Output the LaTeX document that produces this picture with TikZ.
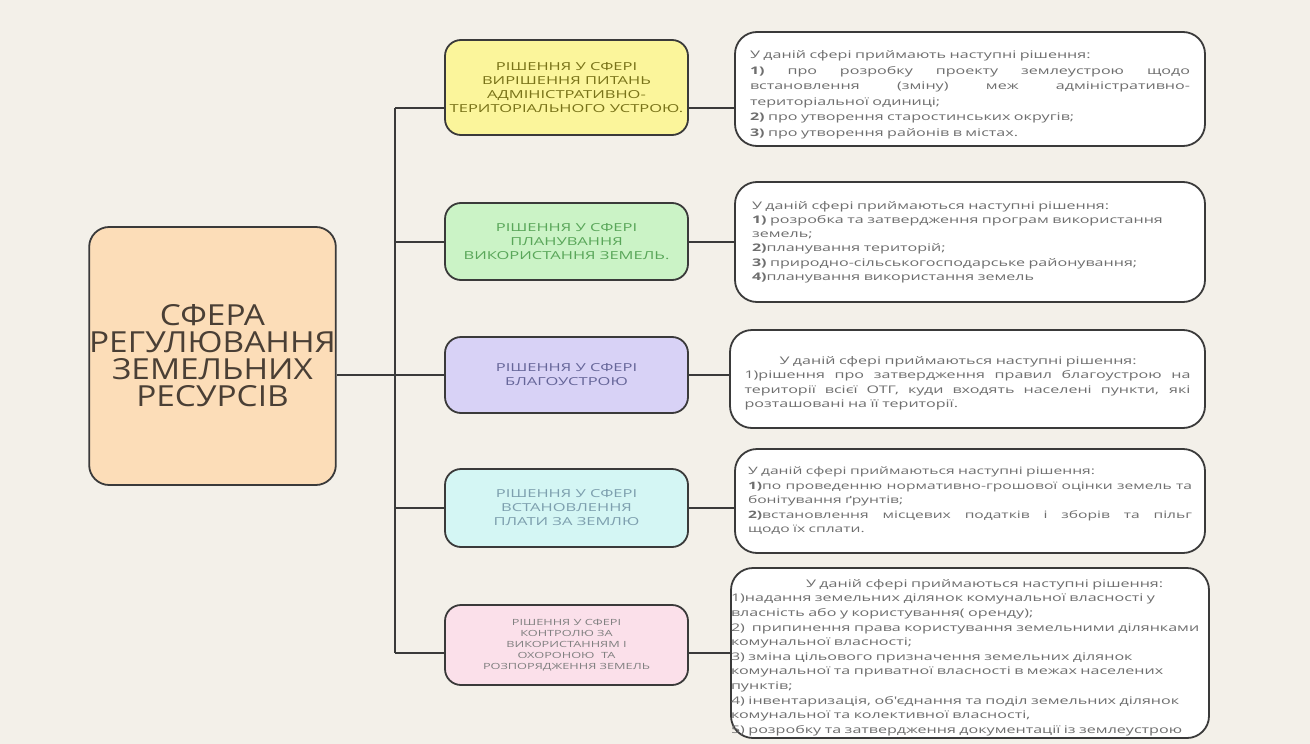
\documentclass[tikz,border=0pt]{standalone}
\usepackage{fontspec}
\setmainfont{Open Sans}
\newfontfamily\mainf[FakeStretch=1.15]{Open Sans}
\newfontfamily\midf[FakeStretch=1.5]{Open Sans}
\newfontfamily\bodyf[FakeStretch=1.53]{Open Sans}
\definecolor{bgc}{HTML}{F3F0E9}
\definecolor{mainfill}{HTML}{FCDDB8}
\definecolor{yelfill}{HTML}{FBF59B}
\definecolor{grnfill}{HTML}{CBF3C6}
\definecolor{purfill}{HTML}{D8D2F6}
\definecolor{cyafill}{HTML}{D4F6F4}
\definecolor{pinkfill}{HTML}{FBE0EA}
\definecolor{edgec}{HTML}{3A3A3A}
\definecolor{bodytxt}{HTML}{6E6E6E}
\definecolor{maintxt}{HTML}{4A3F35}
\newcommand{\jl}[1]{{\spaceskip=0pt\xspaceskip=0pt\makebox[\hsize][s]{#1}}}
\tikzset{
  box/.style={draw=edgec, line width=1.8pt, rounded corners=16pt, inner sep=0pt},
  mainbox/.style={box, fill=mainfill, minimum width=245pt, minimum height=258pt, rounded corners=20pt,
    align=center, font=\mainf\fontsize{29}{27}\selectfont, text=maintxt},
  midbox/.style={box, minimum width=243pt, align=center, font=\midf\fontsize{11}{14}\selectfont},
  infobox/.style={box, fill=white, rounded corners=22pt, align=left, text=bodytxt,
    font=\bodyf\fontsize{10.5}{15}\selectfont},
  conn/.style={draw=edgec, line width=1.4pt}
}
\begin{document}
\begin{tikzpicture}[x=1pt,y=-1pt]
\fill[bgc] (0,0) rectangle (1310,744);
\useasboundingbox (0,0) rectangle (1310,744);

\node[mainbox] (main) at (212.5,356) {СФЕРА\\РЕГУЛЮВАННЯ\\ЗЕМЕЛЬНИХ\\РЕСУРСІВ};

\node[midbox, fill=yelfill, minimum height=95pt, text=olive!80!black] (m1) at (566.5,87.5)
  {РІШЕННЯ У СФЕРІ\\ВИРІШЕННЯ ПИТАНЬ\\АДМІНІСТРАТИВНО-\\ТЕРИТОРІАЛЬНОГО УСТРОЮ.};
\node[midbox, fill=grnfill, minimum height=77pt, text=green!30!gray] (m2) at (566.5,241.5)
  {РІШЕННЯ У СФЕРІ\\ПЛАНУВАННЯ\\ВИКОРИСТАННЯ ЗЕМЕЛЬ.};
\node[midbox, fill=purfill, minimum height=76pt, text=blue!20!gray] (m3) at (566.5,375)
  {РІШЕННЯ У СФЕРІ\\БЛАГОУСТРОЮ};
\node[midbox, fill=cyafill, minimum height=78pt, text=cyan!30!gray] (m4) at (566.5,508)
  {РІШЕННЯ У СФЕРІ\\ВСТАНОВЛЕННЯ\\ПЛАТИ ЗА ЗЕМЛЮ};
\node[midbox, fill=pinkfill, minimum height=80pt, text=gray, font=\midf\fontsize{8.5}{11}\selectfont] (m5) at (566.5,645)
  {РІШЕННЯ У СФЕРІ\\КОНТРОЛЮ ЗА\\ВИКОРИСТАННЯМ І\\ОХОРОНОЮ\ \ ТА\\РОЗПОРЯДЖЕННЯ ЗЕМЕЛЬ};

\node[infobox, minimum width=470pt, minimum height=114pt, text width=440pt, font=\bodyf\fontsize{10.5}{15.5}\selectfont] (r1) at (970,89) {%
\rule{0pt}{20pt}У даній сфері приймають наступні рішення:\\
\jl{\textbf{1)} про розробку проекту землеустрою щодо}\\
\jl{встановлення (зміну) меж адміністративно-}\\
територіальної одиниці;\\
\textbf{2)} про утворення старостинських округів;\\
\textbf{3)} про утворення районів в містах.};

\node[infobox, minimum width=470pt, minimum height=120pt, text width=436pt, font=\bodyf\fontsize{10.5}{14.2}\selectfont] (r2) at (970,242) {%
У даній сфері приймаються наступні рішення:\\
\textbf{1)} розробка та затвердження програм використання\\
земель;\\
\textbf{2)}планування територій;\\
\textbf{3)} природно-сільськогосподарське районування;\\
\textbf{4)}планування використання земель};

\node[infobox, minimum width=475pt, minimum height=98pt, text width=446pt, font=\bodyf\fontsize{10.5}{14.5}\selectfont] (r3) at (967.5,379) {%
\rule{0pt}{17pt}\hspace*{35pt}У даній сфері приймаються наступні рішення:\\
\jl{1)рішення про затвердження правил благоустрою на}\\
\jl{території всієї ОТГ, куди входять населені пункти, які}\\
розташовані на її території.};

\node[infobox, minimum width=470pt, minimum height=104pt, text width=444pt, font=\bodyf\fontsize{10.2}{14.5}\selectfont] (r4) at (970,501) {%
У даній сфері приймаються наступні рішення:\\
\jl{\textbf{1)}по проведенню нормативно-грошової оцінки земель та}\\
бонітування ґрунтів;\\
\jl{\textbf{2)}встановлення місцевих податків і зборів та пільг}\\
щодо їх сплати.};

\node[infobox, minimum width=474pt, minimum height=170pt, text width=478pt, font=\bodyf\fontsize{10.5}{14.6}\selectfont] (r5) at (970,653) {%
\rule{0pt}{17pt}\hspace*{75pt}У даній сфері приймаються наступні рішення:\\
1)надання земельних ділянок комунальної власності у\\
власність або у користування( оренду);\\
2)\ \ припинення права користування земельними ділянками\\
комунальної власності;\\
3) зміна цільового призначення земельних ділянок\\
комунальної та приватної власності в межах населених\\
пунктів;\\
4) інвентаризація, об'єднання та поділ земельних ділянок\\
комунальної та колективної власності,\\
5) розробку та затвердження документації із землеустрою};

\coordinate (j1) at (395,108);
\coordinate (j2) at (395,242);
\coordinate (j3) at (395,375);
\coordinate (j4) at (395,508);
\coordinate (j5) at (395,653);

\draw[conn] (j1) -- (j5);
\draw[conn] (main.east |- j3) -- (j3);
\foreach \i in {1,...,5}{
  \draw[conn] (j\i) -- (j\i -| m\i.west);
  \draw[conn] (j\i -| m\i.east) -- (j\i -| r\i.west);
}
\end{tikzpicture}
\end{document}
